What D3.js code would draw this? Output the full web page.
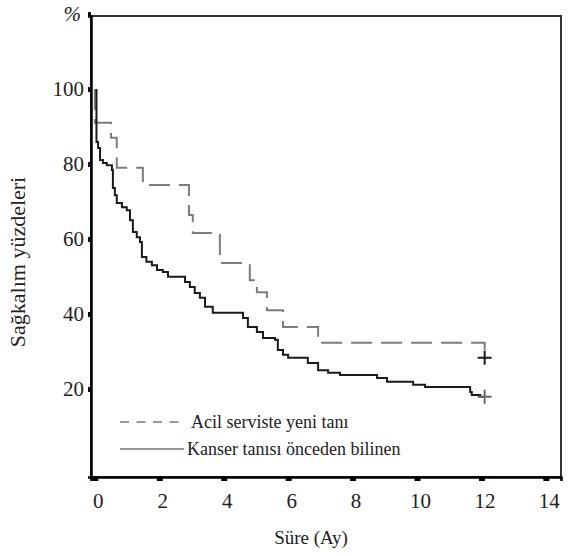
<!DOCTYPE html>
<html>
<head>
<meta charset="utf-8">
<script src="https://cdn.jsdelivr.net/npm/d3@7"></script>
<style>
  body { margin: 0; background: #fff; }
</style>
</head>
<body>
<div id="chart"></div>
<script>
// Acil serviste yeni tanı (dashed)
const acilTimes = [0, 0, 0.5, 0.68, 1.49, 2.92, 3.04, 3.88, 4.81, 5.03, 5.34, 5.84, 6.93, 12.1];
const acilSurv  = [100, 91, 87, 79, 74.4, 66.4, 61.6, 53.6, 49, 45.8, 41, 36.5, 32.3, 28.3];

// Kanser tanısı önceden bilinen (solid)
const kanserTimes = [0.05, 0.05, 0.1, 0.16, 0.25, 0.37, 0.53, 0.56, 0.62, 0.68, 0.84, 0.99,
    1.09, 1.18, 1.3, 1.4, 1.46, 1.6, 1.77, 1.93, 2.11, 2.27, 2.8, 2.95, 3.1, 3.26, 3.42,
    3.66, 4.6, 4.75, 5.03, 5.22, 5.59, 5.68, 5.84, 6.0, 6.61, 6.93, 7.24, 7.61, 8.76,
    9.07, 9.88, 10.25, 11.65, 11.7, 11.96, 12.1];
const kanserSurv = [100, 85.9, 84.3, 81.1, 80.3, 79.7, 78.4, 73.6, 71.7, 69.6, 68.5, 67.7,
    65, 61.9, 60.5, 59.2, 55.2, 53.9, 53, 51.7, 51.2, 49.9, 48.5, 47.2, 45.6, 44.3, 41.9,
    40.3, 38.9, 36.5, 35.2, 33.6, 33.1, 30.4, 29.1, 28.3, 26.9, 25, 24.3, 23.7, 22.9,
    21.9, 21.1, 20.5, 19.2, 18.4, 17.9, 17.9];

// censored points at end of follow-up
const censorTimes = [12.1, 12.1];
const censorSurv = [28.3, 17.9];

const xTicks = [0, 2, 4, 6, 8, 10, 12, 14];
const yTicks = [20, 40, 60, 80, 100, 120];
const legendLabels = ["Acil serviste yeni tanı", "Kanser tanısı önceden bilinen"];

const W = 568, H = 556;
const plotLeft = 91, plotRight = 561, plotTop = 16, plotBottom = 477;
const serif = "'Liberation Serif', 'Times New Roman', 'DejaVu Serif', serif";

const svg = d3.select("#chart").append("svg")
    .attr("width", W)
    .attr("height", H)
    .style("font-family", serif);

const x = d3.scaleLinear().domain([-0.12, 14.47]).range([plotLeft, plotRight]);
const y = d3.scaleLinear().domain([-3.5, 119.5]).range([plotBottom, plotTop]);

// frame
svg.append("rect")
    .attr("x", plotLeft).attr("y", plotTop)
    .attr("width", plotRight - plotLeft).attr("height", plotBottom - plotTop)
    .attr("fill", "none")
    .attr("stroke", "#333")
    .attr("stroke-width", 2);

const line = d3.line()
    .x(d => x(d[0]))
    .y(d => y(d[1]))
    .curve(d3.curveStepAfter);

// dashed curve
svg.append("path")
    .datum(d3.zip(acilTimes, acilSurv))
    .attr("fill", "none")
    .attr("stroke", "#7d7d7d")
    .attr("stroke-width", 2)
    .attr("stroke-dasharray", "21,9")
    .attr("d", line);

// solid curve
svg.append("path")
    .datum(d3.zip(kanserTimes, kanserSurv))
    .attr("fill", "none")
    .attr("stroke", "#1a1a1a")
    .attr("stroke-width", 2)
    .attr("d", line);

// censor marks
const censorColors = ["#1a1a1a", "#6a6a6a"];
d3.zip(censorTimes, censorSurv).forEach((d, i) => {
    const cx = x(d[0]), cy = y(d[1]);
    svg.append("path")
        .attr("d", `M${cx - 7},${cy}H${cx + 7}M${cx},${cy - 7}V${cy + 7}`)
        .attr("stroke", censorColors[i])
        .attr("stroke-width", 2)
        .attr("fill", "none");
});

// x axis
const xAxis = svg.append("g")
    .attr("transform", `translate(0,${plotBottom})`)
    .call(d3.axisBottom(x).tickValues(xTicks).tickSize(4).tickPadding(12));
xAxis.attr("font-family", null).attr("font-size", null);
xAxis.select(".domain").attr("stroke", "#000").attr("stroke-width", 2.5);
xAxis.selectAll(".tick line").attr("stroke", "#000").attr("stroke-width", 6);
xAxis.selectAll(".tick text")
    .attr("dx", 3)
    .style("font-family", serif)
    .style("font-size", "21px")
    .attr("fill", "#222");

// y axis
const yAxis = svg.append("g")
    .attr("transform", `translate(${plotLeft},0)`)
    .call(d3.axisLeft(y).tickValues(yTicks).tickSize(3).tickPadding(4)
        .tickFormat(d => d === 120 ? "%" : d));
yAxis.attr("font-family", null).attr("font-size", null);
yAxis.select(".domain").attr("stroke", "#000").attr("stroke-width", 2.5);
yAxis.selectAll(".tick line").attr("stroke", "#000").attr("stroke-width", 5);
yAxis.selectAll(".tick text")
    .style("font-family", serif)
    .style("font-size", "21px")
    .attr("fill", "#222")
    .style("font-style", d => d === 120 ? "italic" : "normal")
    .attr("dx", d => d === 120 ? -3 : 0);

// axis titles
svg.append("text")
    .attr("x", 311)
    .attr("y", 544)
    .attr("text-anchor", "middle")
    .attr("fill", "#222")
    .style("font-family", serif)
    .style("font-size", "19px")
    .text("Süre (Ay)");

svg.append("text")
    .attr("transform", "translate(25,262) rotate(-90)")
    .attr("text-anchor", "middle")
    .attr("fill", "#222")
    .style("font-family", serif)
    .style("font-size", "22px")
    .text("Sağkalım yüzdeleri");

// legend
const legend = svg.append("g");
legend.append("line")
    .attr("x1", 120).attr("x2", 180)
    .attr("y1", 422).attr("y2", 422)
    .attr("stroke", "#333")
    .attr("stroke-width", 1.2)
    .attr("stroke-dasharray", "9,7.5");
legend.append("text")
    .attr("x", 191).attr("y", 428)
    .attr("fill", "#222")
    .style("font-family", serif)
    .style("font-size", "18px")
    .text(legendLabels[0]);
legend.append("line")
    .attr("x1", 120).attr("x2", 184)
    .attr("y1", 449).attr("y2", 449)
    .attr("stroke", "#333")
    .attr("stroke-width", 1.2);
legend.append("text")
    .attr("x", 187).attr("y", 455)
    .attr("fill", "#222")
    .style("font-family", serif)
    .style("font-size", "18px")
    .text(legendLabels[1]);
</script>
</body>
</html>
